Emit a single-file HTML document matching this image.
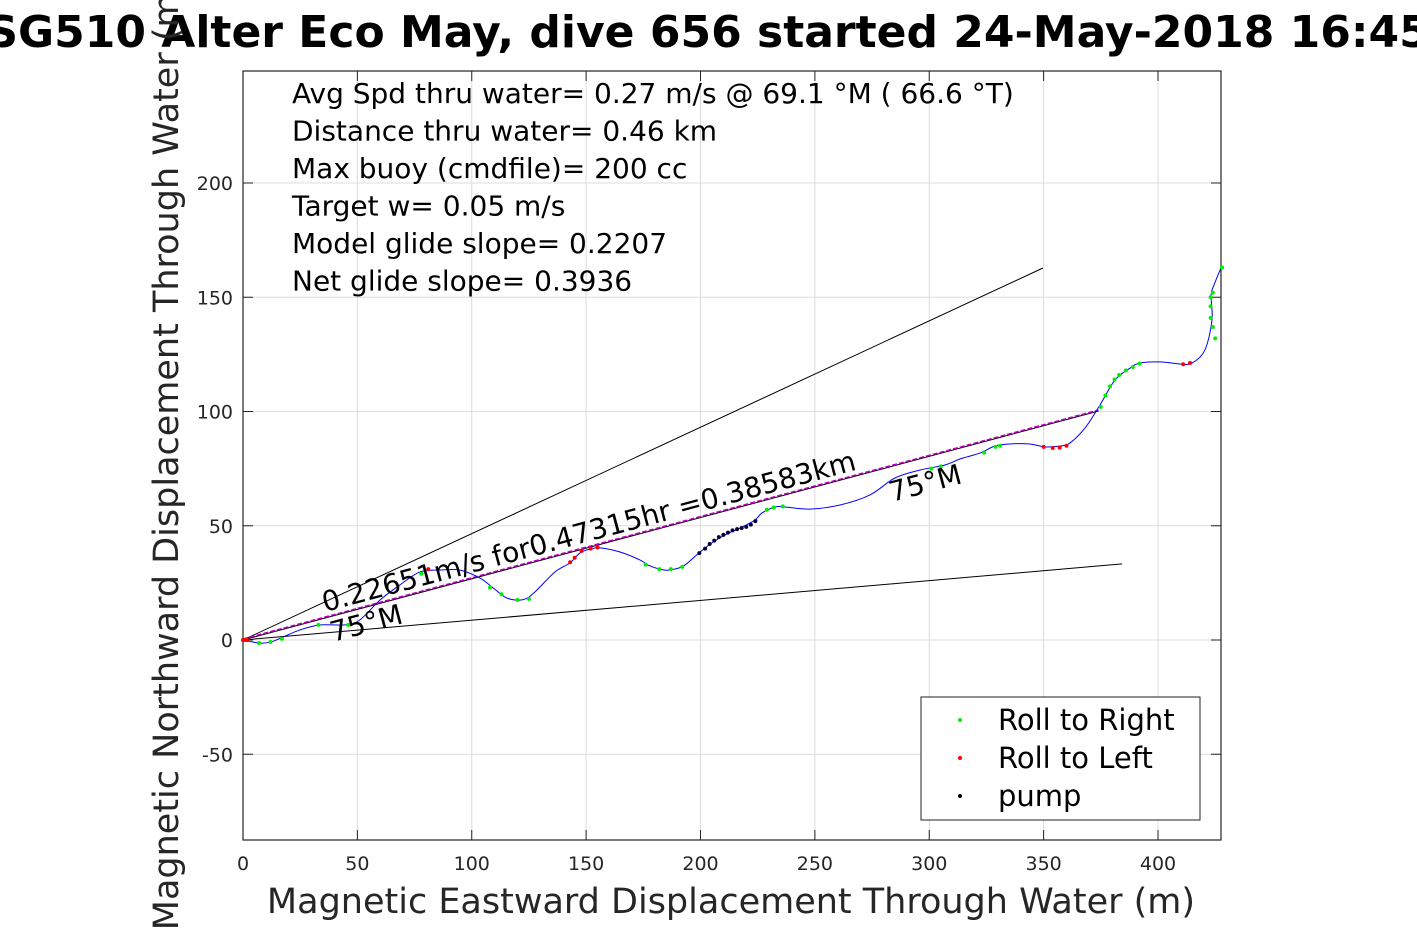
<!DOCTYPE html>
<html><head><meta charset="utf-8"><style>
body{margin:0;background:#fff;width:1417px;height:945px;overflow:hidden}
svg{font-family:"DejaVu Sans","Liberation Sans",sans-serif}
</style></head><body>
<svg id="c" width="1417" height="945"></svg>
<script>
const xTicks=[0,50,100,150,200,250,300,350,400];
const yTicks=[-50,0,50,100,150,200];
const trackX=[0,7,12.2,17.5,24.9,33.7,44.6,51.1,59.9,68.6,77.4,86.1,94.9,103.6,109.3,114.5,118.9,123.3,127.6,136.4,142.9,147.3,151.7,156.1,164.8,173.6,177.9,184.5,188.9,193.2,199.8,205,210.7,217.3,223.8,226.9,232.6,236.9,247.9,261,274.1,285,296,306.9,313.4,322.2,328.7,335.3,344,350.6,357.2,361.5,368.1,374.6,381.2,387.8,392.1,400.9,409.6,414.9,420.5,423.6,423.2,424.5,427.5];
const trackY=[0,-1.3,-0.9,1.3,4.4,6.6,6.6,8.8,17.5,24.1,29.8,30.6,30.6,27.1,22.8,18.8,17.5,17.9,21,29.8,33.7,38.1,39.8,40.3,38.5,35,32.4,30.6,31.1,32.8,38.5,42.5,46,49,52.5,55.6,58.2,58.2,57.3,59.1,63.5,70.9,74.4,76.6,79.2,81.8,84.9,85.8,85.8,84.5,84.9,86.2,92.8,102.8,113.8,119,121.2,121.7,120.8,121.2,126.9,140,151,155.4,162.8];
const rightX=[7,12,17,33,46,78,108,113,120,125,176,182,187,192,229,232,236,301,305,324,329,331,375,377,379,381,383,386,389,392,428,424,423,423,423,424,425];
const rightY=[-1.3,-0.9,0.5,6.6,6.6,29,23,20,17.5,18,33,31,31,32,57,58,58.5,75,76,82,84.5,85,102,107,111,114,116,118,119.5,121,163,152,150,146,141,137,132];
const leftX=[0,1,2,81,143,145,148,152,155,350,354,357,360,411,414];
const leftY=[0,0,0,31,34,36,39,40,40.5,84.5,84,84.2,85,120.7,121.2];
const pumpX=[199.5,202,204,206,208,210,212,214,216,218,220,222,224];
const pumpY=[38,40,42,43.5,45,46,47,48,48.5,49,49.5,50.5,52];
const glideEnd=[374,100.2];
const upperEnd=[349.7,162.8];
const lowerEnd=[384.3,33.3];
const info=["Avg Spd thru water=  0.27 m/s @  69.1 °M ( 66.6 °T)","Distance thru water=  0.46 km","Max buoy (cmdfile)= 200 cc","Target w= 0.05 m/s","Model glide slope= 0.2207","Net glide slope= 0.3936"];

const L=243,R=1221,T=71,B=840;
const X=v=>L+v*2.2875, Y=v=>640-v*2.285;
const svg=document.getElementById('c');const NS='http://www.w3.org/2000/svg';
function el(t,a,p){const e=document.createElementNS(NS,t);for(const k in a)e.setAttribute(k,a[k]);(p||svg).appendChild(e);return e;}
// grid & ticks
xTicks.forEach(t=>{
 const g=el('line',{x1:X(t),x2:X(t),y1:T,y2:B,stroke:'#dcdcdc'});
 
 el('line',{x1:X(t),x2:X(t),y1:B,y2:B-10,stroke:'#222'});el('line',{x1:X(t),x2:X(t),y1:T,y2:T+10,stroke:'#222'});
 const tx=el('text',{x:X(t),y:B+30,'text-anchor':'middle','font-size':19,fill:'#262626'});tx.textContent=t;
 
});
yTicks.forEach(t=>{
 const g=el('line',{x1:L,x2:R,y1:Y(t),y2:Y(t),stroke:'#dcdcdc'});
 
 el('line',{x1:L,x2:L+10,y1:Y(t),y2:Y(t),stroke:'#222'});el('line',{x1:R,x2:R-10,y1:Y(t),y2:Y(t),stroke:'#222'});
 const tx=el('text',{x:L-10,y:Y(t)+7,'text-anchor':'end','font-size':19,fill:'#262626'});tx.textContent=t;
 
});
const fr=el('rect',{x:L,y:T,width:R-L,height:B-T,fill:'none',stroke:'#222','stroke-width':1.2});

// lines
const up=el('line',{x1:X(0),y1:Y(0),x2:X(upperEnd[0]),y2:Y(upperEnd[1]),stroke:'#000'});

const lo=el('line',{x1:X(0),y1:Y(0),x2:X(lowerEnd[0]),y2:Y(lowerEnd[1]),stroke:'#000'});

const gb=el('line',{x1:X(0),y1:Y(0),x2:X(glideEnd[0]),y2:Y(glideEnd[1]),stroke:'#000','stroke-width':1});

const gm=el('line',{x1:X(0),y1:Y(0)-1,x2:X(glideEnd[0]),y2:Y(glideEnd[1])-1,stroke:'#c000c0','stroke-width':1.5,'stroke-dasharray':'5 2'});

// track (smooth)
let pts=trackX.map((x,i)=>[X(x),Y(trackY[i])]);
let d='M'+pts[0][0]+','+pts[0][1];
for(let i=0;i<pts.length-1;i++){const p0=pts[Math.max(0,i-1)],p1=pts[i],p2=pts[i+1],p3=pts[Math.min(pts.length-1,i+2)];
 d+=` C${p1[0]+(p2[0]-p0[0])/6},${p1[1]+(p2[1]-p0[1])/6} ${p2[0]-(p3[0]-p1[0])/6},${p2[1]-(p3[1]-p1[1])/6} ${p2[0]},${p2[1]}`;}
const tr=el('path',{d:d,fill:'none',stroke:'#0000ff','stroke-width':1});

function dots(xs,ys,c,name){xs.forEach((x,i)=>{const m=el('circle',{cx:X(x),cy:Y(ys[i]),r:2,fill:c});
 });}
dots(rightX,rightY,'#00ee00','roll-right-point');dots(leftX,leftY,'#ff0000','roll-left-point');dots(pumpX,pumpY,'#000033','pump-point');
// rotated annotations
const ang=-Math.atan2(glideEnd[1]*2.285,glideEnd[0]*2.2875)*180/Math.PI;
const a1=el('text',{x:325,y:612,'font-size':28,transform:`rotate(${ang} 325 612)`});a1.textContent='0.22651m/s for0.47315hr =0.38583km';

const a2=el('text',{x:333,y:642,'font-size':28,transform:`rotate(${ang} 333 642)`});a2.textContent='75°M';

const a3=el('text',{x:892,y:502,'font-size':28,transform:`rotate(${ang} 892 502)`});a3.textContent='75°M';

// info text
info.forEach((s,i)=>{const t=el('text',{x:292,y:103+i*37.5,'font-size':28,fill:'#000'});t.textContent=s;
 });
// legend
const lg=el('g',{});
el('rect',{x:921,y:697,width:279,height:123,fill:'#fff',stroke:'#222'},lg);
[['Roll to Right','#00ee00'],['Roll to Left','#ff0000'],['pump','#000']].forEach((e,i)=>{
 const g=el('g',{},lg);
 el('circle',{cx:960,cy:720+i*38,r:2,fill:e[1]},g);
 const t=el('text',{x:998,y:730+i*38,'font-size':29},g);t.textContent=e[0];});
// titles
const ti=el('text',{x:708,y:47,'text-anchor':'middle','font-size':44,'font-weight':'bold'});ti.textContent='SG510 Alter Eco May, dive 656 started 24-May-2018 16:45';

const xl=el('text',{x:731,y:913,'text-anchor':'middle','font-size':35,fill:'#262626'});xl.textContent='Magnetic Eastward Displacement Through Water (m)';

const yl=el('text',{x:0,y:0,'text-anchor':'middle','font-size':35,fill:'#262626',transform:'translate(178,455) rotate(-90)'});yl.textContent='Magnetic Northward Displacement Through Water (m)';

</script>
</body></html>
